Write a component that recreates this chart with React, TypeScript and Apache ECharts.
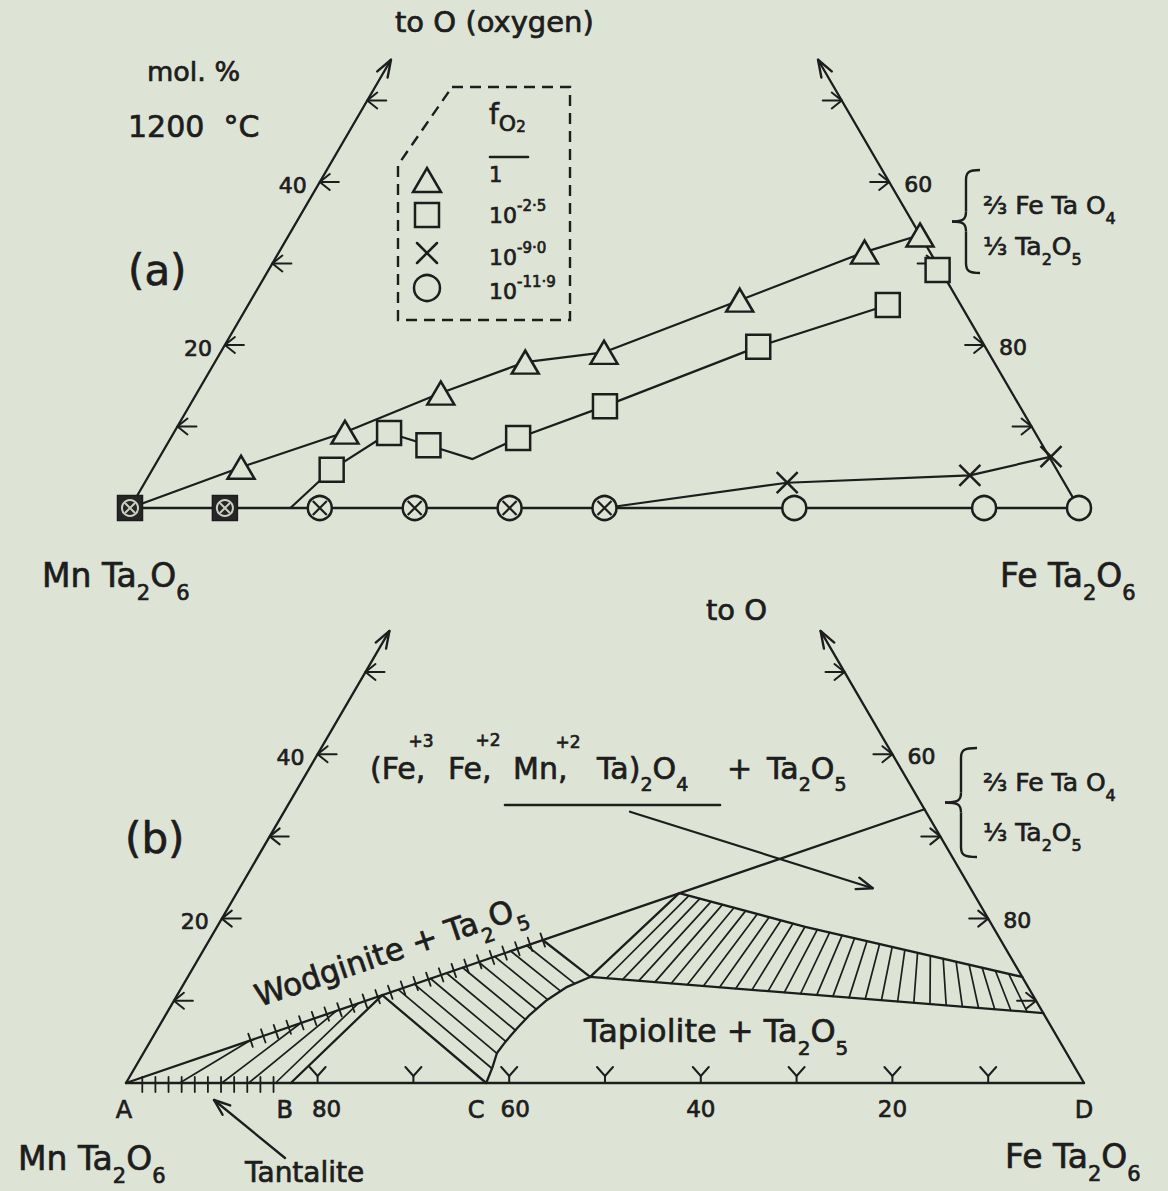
import { useEffect, useRef } from 'react';
import * as echarts from 'echarts';

const PAPER = '#dde4d5';
const INK = '#1d1d1d';
const FONT = '"DejaVu Sans", "Liberation Sans", sans-serif';
const TXT_STROKE = { stroke: INK, lineWidth: 0.7 };

// All compositions are [FeTa2O6 mol %, O mol %]; MnTa2O6 = 100 - both.
// ---- (a) experimental points at 1200 °C ----
const A_TRIANGLES = [[9.2, 5.0], [18.0, 9.3], [25.7, 14.1], [32.7, 17.9], [40.4, 19.1], [51.5, 25.5], [61.7, 31.4], [66.5, 33.5]];
const A_TRIANGLE_PATH = [[0, 0], [9.2, 5.0], [18.0, 9.3], [25.7, 14.1], [32.7, 17.9], [40.4, 19.1], [51.5, 25.5], [61.7, 31.4], [66.5, 33.5]];
const A_SQUARES = [[18.9, 4.7], [22.7, 9.2], [27.6, 7.7], [36.6, 8.6], [43.8, 12.5], [56.3, 19.8], [67.4, 24.9], [70.5, 29.2]];
const A_SQUARE_PATH = [[16.9, 0], [18.9, 4.7], [22.7, 9.2], [27.6, 7.7], [33.1, 6.0], [36.6, 8.6], [43.8, 12.5], [56.3, 19.8], [67.4, 24.9]];
const A_CROSSES = [[67.7, 3.1], [86.5, 4.0], [93.9, 6.3]];
const A_CROSS_PATH = [[50, 0], [67.7, 3.1], [86.5, 4.0], [93.9, 6.3]];
const A_BASE_CIRCLES = [20, 30, 40, 50, 70, 90, 100];
const A_BASE_CROSSED = [20, 30, 40, 50];
const A_BASE_OVERLAP = [0, 10];

// ---- axes (ticks in mol %) ----
const SIDE_TICKS = [10, 20, 30, 40, 50];
const ARROW_TIP = 55;
const LEFT_TICK_LABELS = [[20, '20'], [40, '40']];
const RIGHT_TICK_LABELS = [[20, '80'], [40, '60']];
const BOTTOM_TICKS_B = [20, 30, 40, 50, 60, 70, 80, 90];
const BOTTOM_TICK_LABELS_B = [[20, '80'], [40, '60'], [60, '40'], [80, '20']];
const BOTTOM_LABEL_DX = [9, 6, 0, 0];
const B_VERTICES = [['A', 0], ['B', 17.2], ['C', 37.6], ['D', 100]];
const B_VERTEX_DX = [-2, -6, -10, 0];

// ---- (b) phase boundaries ----
const B_JOIN = [[0, 0], [66.7, 33.3]];
const B_WODGINITE = [[10.4, 5.2], [34.8, 17.4]];
const B_TANTALITE = [[1.7, 0], [15.4, 0]];
const B_W1 = [21.4, 10.7];
const B_W2 = [34.8, 17.4];
const B_C = [37.6, 0];
const B_P = [42.0, 12.9];
const B_Q = [46.2, 23.1];
const B_R = [87.1, 12.9];
const B_S = [91.5, 8.5];
const B_ARC = [[37.6, 0], [37.3, 1.9], [36.9, 3.65], [37.1, 5.0], [37.5, 6.7], [38.0, 8.3], [38.9, 10.1], [40.2, 11.7], [42.0, 12.9]];
const B_TOP = [[46.2, 23.1], [61.4, 19.0], [87.1, 12.9]];
const B_BOTTOM = [[42.0, 12.9], [91.5, 8.5]];
const B_B_W1 = [[17.2, 0], [21.4, 10.7]];
const B_W1_C = [[21.4, 10.7], [37.6, 0]];
const B_W2_P = [[34.8, 17.4], [42.0, 12.9]];
const B_P_Q = [[42.0, 12.9], [46.2, 23.1]];
const B_POINTER = [[36.1, 33.0], [66.1, 23.7]];
const B_FAN = [[5.6, 5.2], [10.0, 7.3], [12.8, 8.8], [15.6, 9.7]]; // [base Fe %, O % on the join]

const xy = (p: number[]) => [p[0] / 100 + p[1] / 200, p[1] / 100];
const lerp = (a: number[], b: number[], t: number) => [a[0] + (b[0] - a[0]) * t, a[1] + (b[1] - a[1]) * t];
const sub = (a: number[], b: number[]) => [a[0] - b[0], a[1] - b[1]];

function hitPolyline(o: number[], d: number[], poly: number[][]) {
  let best: number | null = null;
  for (let i = 0; i < poly.length - 1; i++) {
    const p = poly[i], q = poly[i + 1];
    const e = [q[0] - p[0], q[1] - p[1]];
    const den = d[0] * e[1] - d[1] * e[0];
    if (Math.abs(den) < 1e-9) continue;
    const w = [p[0] - o[0], p[1] - o[1]];
    const s = (w[0] * e[1] - w[1] * e[0]) / den;
    const u = (w[0] * d[1] - w[1] * d[0]) / den;
    if (u >= -1e-6 && u <= 1 + 1e-6 && s > 1e-6 && (best === null || s < best)) best = s;
  }
  return best === null ? null : [o[0] + d[0] * best, o[1] + d[1] * best];
}

const pl = (pts: number[][], w = 2.3) => ({ type: 'polyline', shape: { points: pts }, style: { stroke: INK, lineWidth: w, fill: 'none', lineJoin: 'round', lineCap: 'round' } });
const ln = (a: number[], b: number[], w = 2.3) => ({ type: 'line', shape: { x1: a[0], y1: a[1], x2: b[0], y2: b[1] }, style: { stroke: INK, lineWidth: w, lineCap: 'round' } });
const tx = (x: number, y: number, text: string, size = 22, align = 'center') => ({
  type: 'text', x, y,
  style: { text, fill: INK, ...TXT_STROKE, fontSize: size, fontFamily: FONT, align, textAlign: align, verticalAlign: 'middle', textVerticalAlign: 'middle' },
});
function arrowHead(tip: number[], from: number[], len = 17, spread = 6, w = 2.4) {
  const dx = tip[0] - from[0], dy = tip[1] - from[1];
  const L = Math.hypot(dx, dy);
  const ux = dx / L, uy = dy / L;
  const bx = tip[0] - ux * len, by = tip[1] - uy * len;
  return pl([[bx - uy * spread, by + ux * spread], tip, [bx + uy * spread, by - ux * spread]], w);
}

function drawFrame(c: (p: number[]) => number[], ch: any[]) {
  const A = c([0, 0]), B = c([100, 0]);
  const L = c([0, ARROW_TIP]), R = c([100 - ARROW_TIP, ARROW_TIP]);
  ch.push(ln(A, B), ln(A, L), ln(B, R), arrowHead(L, A), arrowHead(R, B));
  SIDE_TICKS.forEach((o) => {
    const p = c([0, o]);
    ch.push(pl([[p[0] + 10, p[1] - 8], p, [p[0] + 10, p[1] + 8]], 2), ln(p, [p[0] + 19, p[1]], 2));
    const q = c([100 - o, o]);
    ch.push(pl([[q[0] - 10, q[1] - 8], q, [q[0] - 10, q[1] + 8]], 2), ln(q, [q[0] - 19, q[1]], 2));
  });
  LEFT_TICK_LABELS.forEach(([o, t]: any) => { const p = c([0, o]); ch.push(tx(p[0] - 27, p[1] + 3, t)); });
  RIGHT_TICK_LABELS.forEach(([o, t]: any) => { const p = c([100 - o, o]); ch.push(tx(p[0] + 29, p[1] + 2, t)); });
}

function renderA(_params: any, api: any) {
  const c = (p: number[]) => api.coord(xy(p));
  const ch: any[] = [];
  drawFrame(c, ch);
  return { type: 'group', children: ch };
}

function renderB(_params: any, api: any) {
  const c = (p: number[]) => api.coord(xy(p));
  const ch: any[] = [];
  drawFrame(c, ch);
  BOTTOM_TICKS_B.forEach((f) => {
    const p = c([f, 0]);
    ch.push(ln(p, [p[0], p[1] - 7], 2), pl([[p[0] - 8, p[1] - 16], [p[0], p[1] - 7], [p[0] + 8, p[1] - 16]], 2));
  });
  BOTTOM_TICK_LABELS_B.forEach(([f, t]: any, i) => { const p = c([f, 0]); ch.push(tx(p[0] + BOTTOM_LABEL_DX[i], p[1] + 26, t, 23)); });
  B_VERTICES.forEach(([t, f]: any, i) => { const p = c([f, 0]); ch.push(tx(p[0] + B_VERTEX_DX[i], p[1] + 27, t, 24)); });
  [B_JOIN, B_B_W1, B_W1_C, B_W2_P, B_P_Q, B_TOP, B_BOTTOM, B_ARC].forEach((poly) => ch.push(pl(poly.map(c), 2.3)));
  const p0 = c(B_POINTER[0]), p1 = c(B_POINTER[1]);
  ch.push(ln(p0, p1, 2.2), arrowHead(p1, p0, 16, 6));
  {
    const s = c(B_WODGINITE[0]), e = c(B_WODGINITE[1]);
    const L = Math.hypot(e[0] - s[0], e[1] - s[1]);
    const ux = (e[0] - s[0]) / L, uy = (e[1] - s[1]) / L;
    const n = 23;
    for (let k = 0; k <= n; k++) {
      const p = lerp(s, e, k / n);
      ch.push(ln([p[0] - uy * 7, p[1] + ux * 7], [p[0] + uy * 7, p[1] - ux * 7], 1.8));
    }
  }
  {
    const s = c(B_TANTALITE[0]), e = c(B_TANTALITE[1]);
    const n = 10;
    for (let k = 0; k <= n; k++) {
      const p = lerp(s, e, k / n);
      ch.push(ln([p[0], p[1] - 6], [p[0], p[1] + 9], 1.8));
    }
  }
  B_FAN.forEach(([f, o]) => ch.push(ln(c([f, 0]), c([2 * o, o]), 1.7)));
  {
    const n = 10;
    const d0 = sub(B_C, B_W1), d1 = sub(B_P, B_W2);
    for (let i = 1; i < n; i++) {
      const t = i / n;
      const u = lerp(B_W1, B_W2, t);
      const h = hitPolyline(u, lerp(d0, d1, t), B_ARC);
      if (h) ch.push(ln(c(u), c(h), 1.7));
    }
  }
  {
    const n = 28;
    const d0 = sub(B_Q, B_P), d1 = sub(B_R, B_S);
    for (let i = 1; i < n; i++) {
      const t = i / n;
      const l = lerp(B_P, B_S, t);
      const h = hitPolyline(l, lerp(d0, d1, Math.pow(t, 0.75)), B_TOP);
      if (h) ch.push(ln(c(l), c(h), 1.7));
    }
  }
  return { type: 'group', children: ch };
}

function chem(x: number, y: number, rich: string, size: number, extra: any = {}) {
  return {
    type: 'text', x, y, z: 20, ...extra,
    style: {
      text: rich, fill: INK, ...TXT_STROKE, fontFamily: FONT, fontSize: size,
      align: extra.align || 'left', textAlign: extra.align || 'left', verticalAlign: 'middle', textVerticalAlign: 'middle',
      rich: {
        m: { fontSize: size, lineHeight: Math.round(size * 1.7), fontFamily: FONT, fill: INK, ...TXT_STROKE },
        s: { fontSize: Math.round(size * 0.64), lineHeight: Math.round(size * 0.6), verticalAlign: 'bottom', fontFamily: FONT, fill: INK, ...TXT_STROKE },
      },
    },
  };
}
const plain = (x: number, y: number, text: string, size: number, align = 'left') => ({
  type: 'text', x, y, z: 20,
  style: { text, fill: INK, ...TXT_STROKE, fontFamily: FONT, fontSize: size, align, textAlign: align, verticalAlign: 'middle', textVerticalAlign: 'middle' },
});
const gline = (x1: number, y1: number, x2: number, y2: number, w = 2.4) => ({ type: 'line', z: 20, shape: { x1, y1, x2, y2 }, style: { stroke: INK, lineWidth: w, lineCap: 'round' } });

function brace(xr: number, yTop: number, yBot: number, depth: number) {
  const xs = xr - depth * 0.5, xt = xr - depth, mid = (yTop + yBot) / 2, r = 10;
  const st = { stroke: INK, lineWidth: 2.4, fill: 'none' };
  const bz = (x1: number, y1: number, cx1: number, cy1: number, cx2: number, cy2: number, x2: number, y2: number) =>
    ({ type: 'bezierCurve', z: 20, shape: { x1, y1, cpx1: cx1, cpy1: cy1, cpx2: cx2, cpy2: cy2, x2, y2 }, style: st });
  return [
    bz(xr, yTop, xs + 3, yTop, xs, yTop + 2, xs, yTop + r),
    { type: 'line', z: 20, shape: { x1: xs, y1: yTop + r, x2: xs, y2: mid - r }, style: st },
    bz(xs, mid - r, xs, mid - 2, xs - 3, mid, xt, mid),
    bz(xt, mid, xs - 3, mid, xs, mid + 2, xs, mid + r),
    { type: 'line', z: 20, shape: { x1: xs, y1: mid + r, x2: xs, y2: yBot - r }, style: st },
    bz(xs, yBot - r, xs, yBot - 2, xs + 3, yBot, xr, yBot),
  ];
}

function buildGraphic() {
  const g: any[] = [];
  // ---- panel (a) ----
  g.push(plain(147, 71, 'mol. %', 27));
  g.push(plain(128, 126, '1200  °C', 30));
  g.push(plain(128, 270, '(a)', 42));
  g.push(plain(395, 22, 'to O (oxygen)', 29));
  g.push(chem(42, 575, '{m|Mn Ta}{s|2}{m|O}{s|6}', 33));
  g.push(chem(1000, 575, '{m|Fe Ta}{s|2}{m|O}{s|6}', 33));
  g.push(...brace(980, 170, 273, 28));
  g.push(chem(983, 205, '{m|⅔ Fe Ta O}{s|4}', 25));
  g.push(chem(983, 246, '{m|⅓ Ta}{s|2}{m|O}{s|5}', 25));
  // legend
  g.push({ type: 'polygon', z: 20, shape: { points: [[452, 87], [570, 87], [570, 320], [398, 320], [398, 165]] }, style: { stroke: INK, lineWidth: 2.4, fill: 'none', lineDash: [11, 7] } });
  g.push({ type: 'polygon', z: 20, shape: { points: [[427, 168], [441, 192], [413, 192]] }, style: { stroke: INK, lineWidth: 2.5, fill: 'none' } });
  g.push({ type: 'rect', z: 20, shape: { x: 415, y: 203, width: 24, height: 24 }, style: { stroke: INK, lineWidth: 2.5, fill: 'none' } });
  g.push(gline(417, 243, 437, 263, 2.5), gline(437, 243, 417, 263, 2.5));
  g.push({ type: 'circle', z: 20, shape: { cx: 427, cy: 288, r: 13 }, style: { stroke: INK, lineWidth: 2.5, fill: 'none' } });
  g.push({
    type: 'text', x: 489, y: 114, z: 20,
    style: {
      text: '{f|f}{o|O}{t|2}', fill: INK, ...TXT_STROKE, fontFamily: FONT, align: 'left', textAlign: 'left', verticalAlign: 'middle', textVerticalAlign: 'middle',
      rich: {
        f: { fontSize: 28, lineHeight: 40, fontFamily: FONT, ...TXT_STROKE },
        o: { fontSize: 22, lineHeight: 20, verticalAlign: 'bottom', fontFamily: FONT, ...TXT_STROKE },
        t: { fontSize: 15, lineHeight: 10, verticalAlign: 'bottom', fontFamily: FONT, ...TXT_STROKE },
      },
    },
  });
  g.push(gline(490, 157, 528, 157, 2.6));
  g.push(plain(489, 175, '1', 21));
  const sup = (y: number, e: string) => ({
    type: 'text', x: 489, y, z: 20,
    style: {
      text: `{b|10}{e|${e}}`, fill: INK, ...TXT_STROKE, fontFamily: FONT, align: 'left', textAlign: 'left', verticalAlign: 'middle', textVerticalAlign: 'middle',
      rich: { b: { fontSize: 22, lineHeight: 34, fontFamily: FONT, ...TXT_STROKE }, e: { fontSize: 15, lineHeight: 12, verticalAlign: 'top', fontFamily: FONT, ...TXT_STROKE } },
    },
  });
  g.push(sup(215, '-2·5'), sup(257, '-9·0'), sup(291, '-11·9'));

  // ---- panel (b) ----
  g.push(plain(706, 610, 'to O', 29));
  g.push(plain(125, 838, '(b)', 42));
  g.push(plain(370, 768, '(Fe,', 30), plain(448, 768, 'Fe,', 30), plain(513, 768, 'Mn,', 30));
  g.push(chem(597, 768, '{m|Ta)}{s|2}{m|O}{s|4}', 30));
  g.push(plain(727, 768, '+', 30));
  g.push(chem(767, 768, '{m|Ta}{s|2}{m|O}{s|5}', 30));
  g.push(plain(421, 741, '+3', 17, 'center'), plain(488, 740, '+2', 17, 'center'), plain(568, 742, '+2', 17, 'center'));
  g.push(gline(505, 805, 720, 805, 2.6));
  g.push(...brace(977, 748, 857, 32));
  g.push(chem(983, 782, '{m|⅔ Fe Ta O}{s|4}', 25));
  g.push(chem(983, 832, '{m|⅓ Ta}{s|2}{m|O}{s|5}', 25));
  g.push(chem(390, 951, '{m|Wodginite + Ta}{s|2}{m|O}{s|5}', 31, { rotation: (18.7 * Math.PI) / 180, align: 'center' }));
  g.push(chem(584, 1031, '{m|Tapiolite + Ta}{s|2}{m|O}{s|5}', 32));
  g.push(plain(245, 1172, 'Tantalite', 28));
  g.push(chem(18, 1158, '{m|Mn Ta}{s|2}{m|O}{s|6}', 33));
  g.push(chem(1005, 1156, '{m|Fe Ta}{s|2}{m|O}{s|6}', 33));
  {
    const tip = [214, 1100], from = [285, 1158];
    const a: any = arrowHead(tip, from, 16, 6);
    a.z = 20;
    g.push(gline(from[0], from[1], tip[0], tip[1], 2.3), a);
  }
  return g;
}

function buildOption() {
  const mk = (extra: any) => ({ type: 'scatter', xAxisIndex: 0, yAxisIndex: 0, silent: true, z: 5, ...extra });
  const CROSS = 'path://M0,0L20,20M20,0L0,20';
  const hollow = { color: PAPER, borderColor: INK, borderWidth: 2.5, opacity: 1 };
  const crossStyle = (w: number, col = INK) => ({ color: 'transparent', borderColor: col, borderWidth: w, opacity: 1 });
  const lineA = (data: number[][]) => ({ type: 'line', xAxisIndex: 0, yAxisIndex: 0, data: data.map(xy), symbol: 'none', silent: true, z: 3, lineStyle: { color: INK, width: 2.2, opacity: 1 } });
  return {
    animation: false,
    backgroundColor: PAPER,
    grid: [
      { left: 130, width: 949, top: 19, height: 570.5 },
      { left: 126, width: 958, top: 589.8, height: 591.84 },
    ],
    xAxis: [
      { gridIndex: 0, type: 'value', min: 0, max: 1, show: false },
      { gridIndex: 1, type: 'value', min: 0, max: 1, show: false },
    ],
    yAxis: [
      { gridIndex: 0, type: 'value', min: -0.1, max: 0.6, show: false },
      { gridIndex: 1, type: 'value', min: -0.12, max: 0.6, show: false },
    ],
    series: [
      { type: 'custom', xAxisIndex: 0, yAxisIndex: 0, data: [[0, 0]], renderItem: renderA, silent: true, z: 2 },
      { type: 'custom', xAxisIndex: 1, yAxisIndex: 1, data: [[0, 0]], renderItem: renderB, silent: true, z: 2 },
      lineA(A_TRIANGLE_PATH),
      lineA(A_SQUARE_PATH),
      lineA(A_CROSS_PATH),
      mk({ symbol: 'triangle', symbolSize: [27, 23], itemStyle: hollow, data: A_TRIANGLES.map(xy) }),
      mk({ symbol: 'rect', symbolSize: 24, itemStyle: hollow, data: A_SQUARES.map(xy) }),
      mk({ symbol: CROSS, symbolSize: 21, itemStyle: crossStyle(2.5), data: A_CROSSES.map(xy) }),
      mk({ symbol: 'circle', symbolSize: 24, itemStyle: hollow, data: A_BASE_CIRCLES.map((f) => xy([f, 0])) }),
      mk({ symbol: CROSS, symbolSize: 14, z: 6, itemStyle: crossStyle(2.2), data: A_BASE_CROSSED.map((f) => xy([f, 0])) }),
      mk({ symbol: 'rect', symbolSize: 25, z: 7, itemStyle: { color: '#262626', borderColor: INK, borderWidth: 1.5, opacity: 1 }, data: A_BASE_OVERLAP.map((f) => xy([f, 0])) }),
      mk({ symbol: 'circle', symbolSize: 16, z: 8, itemStyle: crossStyle(2, '#c9d0c1'), data: A_BASE_OVERLAP.map((f) => xy([f, 0])) }),
      mk({ symbol: CROSS, symbolSize: 10, z: 9, itemStyle: crossStyle(2, '#c9d0c1'), data: A_BASE_OVERLAP.map((f) => xy([f, 0])) }),
    ],
    graphic: buildGraphic(),
  };
}

export default function App() {
  const ref = useRef<HTMLDivElement>(null);
  useEffect(() => {
    const chart = echarts.init(ref.current as HTMLDivElement, null, { renderer: 'svg' });
    chart.setOption(buildOption() as any);
    return () => chart.dispose();
  }, []);
  return <div ref={ref} style={{ position: 'absolute', left: 0, top: 0, width: 1168, height: 1191, background: PAPER }} />;
}
